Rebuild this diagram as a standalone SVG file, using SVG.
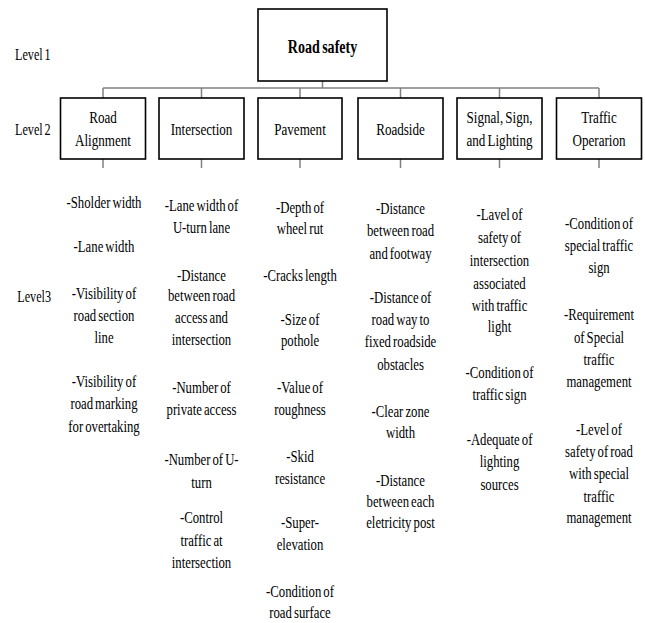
<svg xmlns="http://www.w3.org/2000/svg" width="645" height="623" viewBox="0 0 645 623" font-family="'Liberation Serif', 'Times New Roman', serif">
<style>
.box{fill:#fff;stroke:#000;stroke-width:1.6}
.conn{stroke:#808080;stroke-width:1.5;fill:none}
text{font-family:'Liberation Serif', serif;fill:#000}
.t{font-size:17px;text-anchor:middle;word-spacing:-1.5px}
.lv{font-size:16px;word-spacing:-1.5px}
.root{font-size:19px;font-weight:bold;text-anchor:middle;word-spacing:-1.5px}
</style>
<rect width="645" height="623" fill="#fff"/>
<g id="connectors">
<line class="conn" x1="322.5" y1="81" x2="322.5" y2="88"/>
<line class="conn" x1="103" y1="88" x2="599" y2="88"/>
<line class="conn" x1="103" y1="88" x2="103" y2="98"/>
<line class="conn" x1="201.5" y1="88" x2="201.5" y2="98"/>
<line class="conn" x1="300" y1="88" x2="300" y2="98"/>
<line class="conn" x1="400.5" y1="88" x2="400.5" y2="98"/>
<line class="conn" x1="499.5" y1="88" x2="499.5" y2="98"/>
<line class="conn" x1="599" y1="88" x2="599" y2="98"/>
<line class="conn" x1="103" y1="159" x2="103" y2="168"/>
<line class="conn" x1="201.5" y1="159" x2="201.5" y2="168"/>
<line class="conn" x1="300" y1="159" x2="300" y2="168"/>
<line class="conn" x1="400.5" y1="159" x2="400.5" y2="168"/>
<line class="conn" x1="499.5" y1="159" x2="499.5" y2="168"/>
<line class="conn" x1="599" y1="159" x2="599" y2="168"/>
</g>
<g id="levels" transform="translate(15,0) scale(0.76,1)">
<text class="lv" x="0" y="60">Level 1</text>
<text class="lv" x="0" y="135">Level 2</text>
<text class="lv" x="3" y="302">Level3</text>
</g>
<g id="road-safety">
<rect class="box" x="258" y="9" width="129" height="72"/>
<g transform="translate(322.5,0) scale(0.74,1)"><text class="root" x="0" y="53">Road safety</text></g>
</g>
<g id="road-alignment">
<rect class="box" x="60.5" y="98" width="85" height="61"/>
<g transform="translate(103,0) scale(0.77,1)"><text class="t" x="0" y="123">Road</text><text class="t" x="0" y="146">Alignment</text></g>
</g>
<g id="intersection">
<rect class="box" x="159" y="98" width="85" height="61"/>
<g transform="translate(201.5,0) scale(0.77,1)"><text class="t" x="0" y="135">Intersection</text></g>
</g>
<g id="pavement">
<rect class="box" x="258" y="98" width="84" height="61"/>
<g transform="translate(300,0) scale(0.77,1)"><text class="t" x="0" y="135">Pavement</text></g>
</g>
<g id="roadside">
<rect class="box" x="358" y="98" width="85" height="61"/>
<g transform="translate(400.5,0) scale(0.77,1)"><text class="t" x="0" y="135">Roadside</text></g>
</g>
<g id="signal-sign-lighting">
<rect class="box" x="457" y="98" width="85" height="61"/>
<g transform="translate(499.5,0) scale(0.77,1)"><text class="t" x="0" y="123">Signal, Sign,</text><text class="t" x="0" y="146">and Lighting</text></g>
</g>
<g id="traffic-operarion">
<rect class="box" x="556.5" y="98" width="85" height="61"/>
<g transform="translate(599,0) scale(0.77,1)"><text class="t" x="0" y="123">Traffic</text><text class="t" x="0" y="146">Operarion</text></g>
</g>
<g id="items-road-alignment" transform="translate(104,0) scale(0.75,1)">
<text class="t" x="0" y="208">-Sholder width</text>
<text class="t" x="0" y="252">-Lane width</text>
<text class="t" x="0" y="299">-Visibility of</text>
<text class="t" x="0" y="321">road section</text>
<text class="t" x="0" y="343">line</text>
<text class="t" x="0" y="387">-Visibility of</text>
<text class="t" x="0" y="409">road marking</text>
<text class="t" x="0" y="432">for overtaking</text>
</g>
<g id="items-intersection" transform="translate(201.5,0) scale(0.75,1)">
<text class="t" x="0" y="211">-Lane width of</text>
<text class="t" x="0" y="233">U-turn lane</text>
<text class="t" x="0" y="281">-Distance</text>
<text class="t" x="0" y="301">between road</text>
<text class="t" x="0" y="323">access and</text>
<text class="t" x="0" y="345">intersection</text>
<text class="t" x="0" y="393">-Number of</text>
<text class="t" x="0" y="415">private access</text>
<text class="t" x="0" y="465">-Number of U-</text>
<text class="t" x="0" y="488">turn</text>
<text class="t" x="0" y="523">-Control</text>
<text class="t" x="0" y="546">traffic at</text>
<text class="t" x="0" y="568">intersection</text>
</g>
<g id="items-pavement" transform="translate(300,0) scale(0.75,1)">
<text class="t" x="0" y="213">-Depth of</text>
<text class="t" x="0" y="234">wheel rut</text>
<text class="t" x="0" y="281">-Cracks length</text>
<text class="t" x="0" y="325">-Size of</text>
<text class="t" x="0" y="346">pothole</text>
<text class="t" x="0" y="393">-Value of</text>
<text class="t" x="0" y="415">roughness</text>
<text class="t" x="0" y="462">-Skid</text>
<text class="t" x="0" y="484">resistance</text>
<text class="t" x="0" y="528">-Super-</text>
<text class="t" x="0" y="550">elevation</text>
<text class="t" x="0" y="597">-Condition of</text>
<text class="t" x="0" y="618">road surface</text>
</g>
<g id="items-roadside" transform="translate(400.5,0) scale(0.75,1)">
<text class="t" x="0" y="214">-Distance</text>
<text class="t" x="0" y="236">between road</text>
<text class="t" x="0" y="259">and footway</text>
<text class="t" x="0" y="303">-Distance of</text>
<text class="t" x="0" y="325">road way to</text>
<text class="t" x="0" y="347">fixed roadside</text>
<text class="t" x="0" y="370">obstacles</text>
<text class="t" x="0" y="417">-Clear zone</text>
<text class="t" x="0" y="438">width</text>
<text class="t" x="0" y="486">-Distance</text>
<text class="t" x="0" y="507">between each</text>
<text class="t" x="0" y="528">eletricity post</text>
</g>
<g id="items-signal-sign-lighting" transform="translate(499.5,0) scale(0.75,1)">
<text class="t" x="0" y="220">-Lavel of</text>
<text class="t" x="0" y="243">safety of</text>
<text class="t" x="0" y="266">intersection</text>
<text class="t" x="0" y="289">associated</text>
<text class="t" x="0" y="311">with traffic</text>
<text class="t" x="0" y="332">light</text>
<text class="t" x="0" y="378">-Condition of</text>
<text class="t" x="0" y="400">traffic sign</text>
<text class="t" x="0" y="445">-Adequate of</text>
<text class="t" x="0" y="467">lighting</text>
<text class="t" x="0" y="490">sources</text>
</g>
<g id="items-traffic-operarion" transform="translate(599,0) scale(0.75,1)">
<text class="t" x="0" y="229">-Condition of</text>
<text class="t" x="0" y="251">special traffic</text>
<text class="t" x="0" y="273">sign</text>
<text class="t" x="0" y="320">-Requirement</text>
<text class="t" x="0" y="343">of Special</text>
<text class="t" x="0" y="365">traffic</text>
<text class="t" x="0" y="387">management</text>
<text class="t" x="0" y="435">-Level of</text>
<text class="t" x="0" y="457">safety of road</text>
<text class="t" x="0" y="479">with special</text>
<text class="t" x="0" y="502">traffic</text>
<text class="t" x="0" y="523">management</text>
</g>
</svg>
